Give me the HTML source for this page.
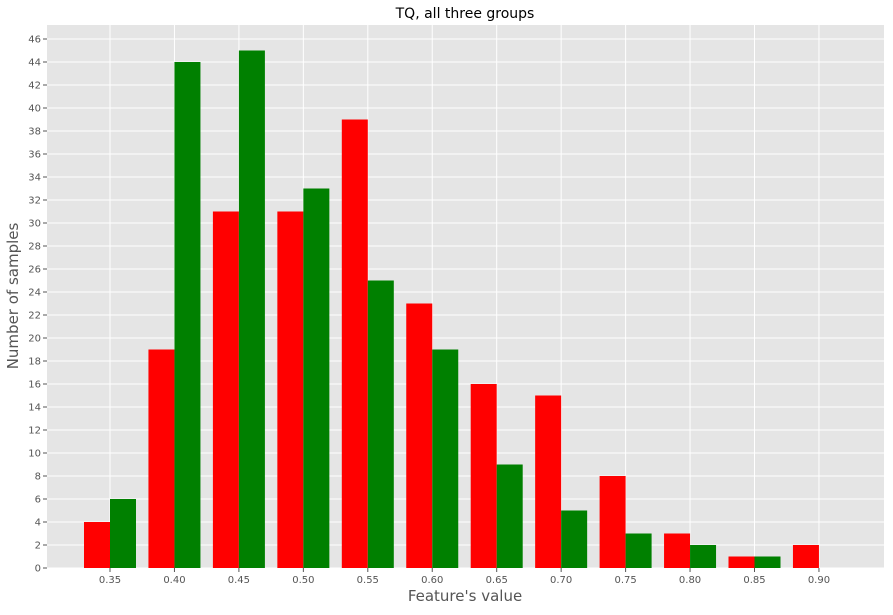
<!DOCTYPE html>
<html><head><meta charset="utf-8"><style>
body{margin:0;background:#fff;font-family:"DejaVu Sans","Liberation Sans",sans-serif;}
svg text{font-family:"DejaVu Sans","Liberation Sans",sans-serif;}
</style></head><body>
<svg width="893" height="611" xmlns="http://www.w3.org/2000/svg">
<rect x="47" y="25" width="837" height="543" fill="#e5e5e5"/>
<g id="grid"></g><g id="bars"></g><g id="ticks"></g>
<text x="465" y="18" text-anchor="middle" font-size="14" fill="#000">TQ, all three groups</text>
<text x="465" y="601" text-anchor="middle" font-size="15" fill="#555">Feature's value</text>
<text transform="translate(18,296) rotate(-90)" text-anchor="middle" font-size="15" fill="#555">Number of samples</text>
</svg>
<script>
const categories=[0.35,0.40,0.45,0.50,0.55,0.60,0.65,0.70,0.75,0.80,0.85,0.90];
const redValues=[4,19,31,31,39,23,16,15,8,3,1,2];
const greenValues=[6,44,45,33,25,19,9,5,3,2,1,0];
const yTicks=[0,2,4,6,8,10,12,14,16,18,20,22,24,26,28,30,32,34,36,38,40,42,44,46];
const NS="http://www.w3.org/2000/svg";
function xScale(v){return 110+(v-0.35)/0.05*64.45;}
function yScale(v){return 568-v*11.5;}
const bw=26;
function mk(tag,attrs,parent){const e=document.createElementNS(NS,tag);for(const k in attrs)e.setAttribute(k,attrs[k]);document.getElementById(parent).appendChild(e);return e;}
yTicks.forEach(t=>{
  const y=yScale(t);
  const l=mk('line',{x1:47,x2:884,y1:y,y2:y,stroke:'#fff','stroke-width':1},'grid');
  
  
  const tk=mk('line',{x1:43,x2:47,y1:y,y2:y,stroke:'#555'},'ticks');
  
  
  const tx=mk('text',{x:41,y:y+3.5,'text-anchor':'end','font-size':10,fill:'#555'},'ticks');
  tx.textContent=t;
  
  
});
categories.forEach((c,i)=>{
  const x=xScale(c);
  const l=mk('line',{x1:x,x2:x,y1:25,y2:568,stroke:'#fff','stroke-width':1},'grid');
  
  
  const r=mk('rect',{x:x-bw,y:yScale(redValues[i]),width:bw,height:568-yScale(redValues[i]),fill:'#ff0000'},'bars');
  
  
  const g=mk('rect',{x:x,y:yScale(greenValues[i]),width:bw,height:568-yScale(greenValues[i]),fill:'#008000'},'bars');
  
  
  const tk=mk('line',{x1:x,x2:x,y1:568,y2:572,stroke:'#555'},'ticks');
  
  
  const tx=mk('text',{x:x,y:583,'text-anchor':'middle','font-size':10,fill:'#555'},'ticks');
  tx.textContent=c.toFixed(2);
  
  
});
</script>
</body></html>
